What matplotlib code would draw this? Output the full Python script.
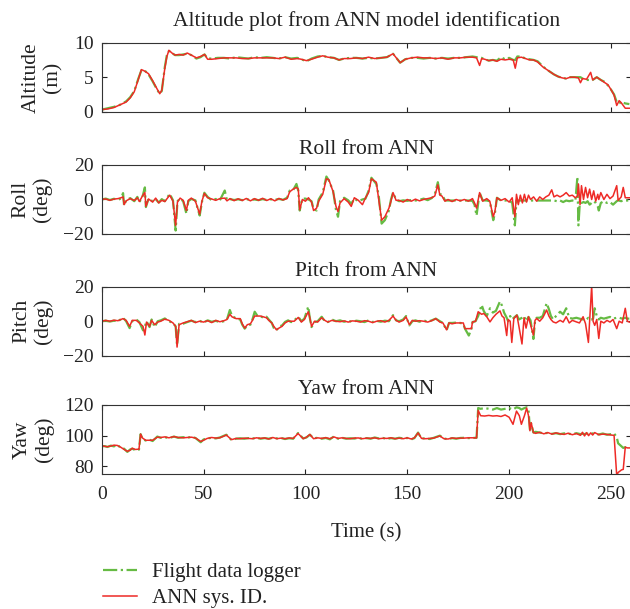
import matplotlib
matplotlib.use("Agg")
import matplotlib.pyplot as plt

plt.rcParams["font.family"] = ["Liberation Serif", "DejaVu Serif"]
plt.rcParams["font.size"] = 14

# ---- data: time (s), flight data logger, ANN sys. ID ----
t_alt = [0, 3, 6, 9, 12, 14, 16, 18, 19.5, 21, 23, 25, 27, 28.5, 29.5, 31, 32, 33, 34.5, 36,
         38, 40, 42, 44, 46.5, 48.5, 50.5, 52, 54, 57, 60, 63, 66, 69, 72, 75, 78, 81, 84, 87,
         90, 93, 96, 98, 100.5, 103, 106, 108.5, 111, 114, 116.5, 119, 122, 125, 128, 131, 134,
         137, 140, 143, 146.5, 149, 152, 155, 158, 161, 164, 167, 170, 173, 176, 179, 182, 184,
         185.5, 186.5, 188, 190, 192, 194, 196, 198, 200, 202, 203, 204, 206, 208, 210, 212, 214,
         216.5, 218, 220, 222, 224, 226, 228, 230, 232, 234, 235, 236, 238, 240, 241, 243, 245,
         247, 248.5, 250, 251.5, 252.8, 254, 255, 256, 257, 259]
alt_log = [0.3, 0.5, 0.7, 1.0, 1.5, 2.1, 3.0, 4.8, 6.0, 6.0, 5.4, 4.4, 3.3, 2.6, 3.0, 6.5, 8.2, 8.8, 8.5, 8.2,
           8.2, 8.3, 8.4, 8.2, 7.7, 7.9, 8.3, 7.7, 7.7, 7.8, 7.8, 7.7, 7.9, 7.8, 7.7, 7.9, 7.8, 7.9, 7.8, 7.7,
           7.9, 7.7, 7.8, 7.6, 7.3, 7.7, 8.0, 8.1, 7.9, 7.8, 7.5, 7.7, 7.8, 7.8, 7.7, 7.8, 7.7,
           7.8, 7.9, 8.4, 7.1, 7.6, 7.8, 7.8, 7.7, 7.8, 7.7, 7.8, 7.7, 7.8, 7.8, 7.9, 8.0, 7.9,
           7.8, 7.8, 7.6, 7.4, 7.5, 7.4, 7.9, 7.6, 7.8, 7.5, 7.5, 8.0, 8.0, 7.7, 7.6, 7.5, 7.3,
           6.6, 6.2, 5.8, 5.4, 5.1, 4.9, 4.8, 5.0, 5.0, 5.0, 5.0, 4.8, 4.6, 4.6, 4.6, 5.0, 4.6,
           4.3, 3.8, 3.2, 2.5, 1.4, 1.5, 1.1, 1.3, 1.2, 1.1]
alt_ann = [0.3, 0.4, 0.6, 1.0, 1.4, 2.0, 2.9, 4.7, 6.1, 5.9, 5.5, 4.5, 3.4, 2.6, 3.1, 6.3, 8.0, 8.9, 8.5, 8.2,
           8.3, 8.2, 8.5, 8.2, 7.8, 8.0, 8.3, 7.6, 7.6, 7.7, 7.8, 7.8, 7.8, 7.7, 7.7, 7.8, 7.8, 7.8, 7.8, 7.7,
           7.9, 7.6, 7.7, 7.6, 7.4, 7.6, 7.9, 8.1, 7.9, 7.8, 7.5, 7.7, 7.7, 7.8, 7.7, 7.9, 7.7,
           7.8, 7.9, 8.4, 7.1, 7.6, 7.8, 7.9, 7.8, 7.8, 7.7, 7.8, 7.6, 7.8, 7.8, 7.9, 7.9, 7.8,
           6.7, 7.7, 7.6, 7.4, 7.5, 7.3, 7.6, 7.5, 7.6, 7.5, 6.3, 7.8, 7.9, 7.7, 7.5, 7.5, 7.2,
           6.5, 6.2, 5.8, 5.4, 5.1, 4.9, 4.8, 5.0, 5.0, 4.9, 4.2, 4.8, 4.7, 5.7, 4.6, 5.0, 4.6,
           4.2, 3.9, 3.2, 2.4, 0.9, 1.6, 1.3, 0.9, 0.5, 0.5]

t_roll = [0, 2, 4, 6, 8, 9.5, 10.5, 11, 12, 14, 16, 17.5, 18.5, 20, 21.2, 21.7, 23, 25, 26.5, 28,
          29.5, 31, 33.4, 35, 36.3, 37.2, 38.5, 40, 41.6, 42.5, 44, 46, 48.1, 49.2, 50.4, 52, 54, 56,
          58, 60.4, 61.5, 63, 65, 67, 69, 71, 73, 75, 77, 79, 81, 83, 85, 87, 89, 91, 92.3, 94,
          95.6, 96.5, 97.2, 98.5, 100, 101.5, 103, 104, 105.5, 106.5, 108.5, 110.3, 111.5, 113.6,
          115, 116, 117, 119, 121, 122.5, 124, 126, 128, 129.5, 131, 132.4, 134.8, 136, 137.4,
          139, 141, 142, 143, 144.5, 146, 148, 150, 152, 154, 156, 158, 160, 162, 163.5, 165, 166,
          167, 168.5, 170, 172, 174, 176, 178, 180, 182, 183, 184, 185.5, 187, 189, 190.5, 192.2,
          193, 194, 196, 198, 200, 201.5, 202.8, 203.6, 204.5, 205.5, 206.5, 207.5, 208.5, 209.5,
          210.5, 212, 213.5, 215, 216.5, 218, 219.5, 220.9, 222, 223.5, 225, 226.5, 228, 229.5,
          231, 232.5, 233.5, 234, 234.8, 235.5, 236.5, 237.5, 238.5, 239.5, 240.5, 241.5, 242.5,
          243.5, 244, 245, 246.5, 248, 249.5, 251, 252.8, 253.5, 255, 256, 257, 259]
roll_log = [0, 0.5, -0.3, 0.4, -0.2, 0.6, 3.7, -3.5, -0.5, 0.8, -1.0, 1.5, -1.5, 1.5, 7.0, -4.4, 0.5, -1.0, 0.2, -1.8,
            0.2, -1.0, 3.3, -0.5, -18.0, -1.0, 0.5, -1.0, -8.3, -1.0, 0.3, -0.5, -9.3, -1.5, 3.9, 1.5, -0.5, 0.3,
            -0.5, 5.2, -0.5, 0.2, -0.3, 0.1, -0.4, 0.2, -0.3, 0.0, -0.4, 0.2, -0.3, 0.1, -0.2, 0.3, -0.2, 1.0, 5.2, 5.5,
            9.0, 5.0, -6.4, 0.5, 0.5, 0.0, -1.0, -5.5, -6.4, 0.0, 4.0, 13.3, 11.0, 5.0,
            -6.0, -10.0, -1.0, 1.0, -0.5, -2.5, 0.5, -1.0, 0.0, 0.5, 5.0, 12.6, 9.0, 2.0, -14.0,
            -12.0, -6.4, 0.0, 4.0, 0.0, -1.0, -0.5, -0.8, -0.3, -0.6, -0.2, 0.5, -0.4, 0.8, 3.0, 10.0, 3.0,
            3.0, -0.5, -0.6, -0.6, -0.6, -0.6, -0.6, -0.6, -0.8, -3.0, -9.3, 4.0, -0.5, -0.6, -1.0, -12.0,
            -8.0, 1.0, -0.6, -0.6, -0.6, -2.0, -15.0, -0.5, -0.6, -0.6, -0.6, -0.6, -0.6, -0.6,
            -0.6, -0.6, -0.6, -0.6, -0.6, -0.6, -0.6, -0.6, -0.6, -1.0, -0.6, -1.5, -0.6, -1.0,
            -0.6, -1.0, 13.0, -15.0, 0.0, -2.0, -1.5, -2.0, -1.0, -3.0, -2.0, -1.0, -2.0,
            -4.0, -6.4, -2.0, -1.0, -2.0, -1.5, -3.0, -1.0, -0.5, -1.0, -0.6, -0.6, -0.6]
roll_ann = [0, 0.3, -0.5, 0.2, 0.5, 1.0, 1.5, -3.0, -0.8, 0.5, -0.6, 1.0, -1.2, 2.0, 4.0, -4.0, 0.3, -1.5, 0.8, -2.0,
            -0.5, -1.2, 2.5, -1.0, -15.0, -1.5, 0.8, -0.5, -6.4, -0.5, 0.8, -1.0, -8.5, -1.0, 3.5, 1.0, 0.3, -0.5,
            0.5, 0.8, -0.8, 0.5, -0.7, 0.4, -0.6, 0.6, -0.8, 0.5, -0.5, 0.7, -0.6, 0.4, -0.8, 0.6, -0.3, 0.5, 4.5, 6.0,
            7.0, 6.0, -6.0, 0.0, -1.0, 1.0, -1.5, -6.4, -5.0, -1.0, 3.0, 12.0, 11.5, 4.5,
            -4.0, -7.0, -2.0, 0.5, -1.5, -4.0, 1.0, -0.5, -3.0, 1.0, 4.0, 12.0, 10.0, 0.0, -12.0,
            -10.0, -5.0, -1.0, 4.0, -0.5, -0.5, -1.5, 0.0, -1.0, 0.2, -0.8, 0.0, 0.5, 1.0, 2.0, 8.5, 2.5,
            2.0, -1.0, 0.0, -1.2, 0.0, -0.8, 0.0, -1.0, 0.5, -2.0, -5.0, 4.0, -1.0, 0.5, -1.0, -10.0,
            -7.0, 1.0, -0.5, 0.5, -1.5, 1.0, -10.0, 3.0, -3.0, 2.5, -2.0, 3.0, -1.5, 2.5,
            0.0, 1.5, -1.0, 1.5, 0.0, 1.5, 2.5, 5.6, 1.5, 2.5, 1.5, 2.5, 4.0, 2.0,
            2.5, 1.0, 2.0, 9.0, -3.0, 8.0, 0.0, 7.0, 1.0, 6.0, 0.0, 5.0, -1.0,
            3.0, 0.0, 4.0, 0.0, 3.0, 0.5, 2.0, 8.0, -0.5, 1.5, 7.0, 1.0, 1.0]

t_pitch = [0, 2, 4, 6, 8, 10.5, 12, 13.7, 15, 17, 18.5, 20.3, 21.2, 22, 23.5, 24.5, 26, 27.5, 29, 31,
           33, 35, 36.3, 37, 38, 40, 42, 44, 46, 48, 50, 52, 54, 56, 58, 60, 61.5, 62.9, 64, 66,
           68, 69, 70.2, 71.5, 73, 74, 75.1, 76.5, 78, 79.5, 80.9, 82, 83.5, 84.5, 85.8, 87, 88.5,
           90, 91.5, 93, 94.5, 96.5, 98, 99.5, 101.4, 102, 103, 104.5, 106, 108, 109.5, 111, 113,
           115, 117, 119, 121, 123, 125, 127, 129, 131, 133, 135, 137, 139, 141, 143, 144.5, 146,
           148, 149.4, 151, 152.5, 154, 156, 158, 160, 162, 164, 166, 167.5, 169.3, 170.5, 172, 174,
           176, 177.5, 178.3, 180.2, 181.5, 182, 183.5, 184.8, 186.5, 187.5, 189, 190.6, 192, 193.5,
           195.5, 196.5, 197.5, 198.8, 199.5, 200.5, 201.3, 202.3, 203.8, 204.8, 206.3, 207.3, 208.3,
           209.5, 210.5, 211.9, 212.7, 213.5, 215, 216.5, 218.4, 219.5, 220.5, 221.6, 223, 225,
           226.5, 228, 229.5, 231, 233, 234.5, 236.3, 237.5, 238.9, 239.5, 240.5, 241.2, 242, 243,
           244, 245, 246.5, 248, 249.5, 251, 252.8, 254, 255.5, 257, 258, 259]
pitch_log = [0, 0.3, -0.2, 0.3, 0.0, 2.0, 0.0, -4.0, 0.0, 1.0, -0.5, -5.3, -3.0, 0.0, -3.4, 1.0, -3.4, 0.0, 0.5, 1.6,
             0.0, -1.0, -3.0, -14.0, -1.5, -1.4, -0.5, 0.3, -0.5, 0.3, -0.8, 0.5, -0.3, 0.2, -0.5, 0.0, 1.0, 6.5, 3.0, 1.6,
             1.0, -2.0, -4.3, -2.5, -2.0, 1.0, 5.5, 3.0, 2.8, 2.0, 2.6, 1.0, -1.0, -4.0, -5.3, -3.0, -2.5,
             -0.4, 0.5, -0.5, 0.5, 2.6, 0.0, 1.5, 8.5, 3.0, -3.4, -0.5, 0.0, 2.6, 0.0, -0.5, 1.0,
             0.0, 0.5, -0.3, 0.3, -0.4, 0.3, 0.0, -0.5, 0.5, -0.5, 0.2, -0.3, 0.3, 0.0, 3.5, 0.5, 0.0,
             1.0, 3.0, -2.4, 0.0, 0.5, -0.3, 0.5, -0.3, 0.5, 1.5, 0.0, -1.0, -5.3, -1.0, -1.0, -0.8,
             -1.0, -1.5, -4.3, -8.3, -4.3, -0.5, 0.0, 3.0, 9.5, 6.0, 3.0, 7.5, 5.0, 6.0,
             11.5, 9.0, 5.0, 2.0, 0.0, 3.0, 1.0, 2.0, 3.5, 1.0, 2.0, 3.0, 0.0,
             2.5, 0.5, -10.3, 0.0, 2.0, 2.0, 3.0, 10.5, 7.0, 3.0, 1.0, 3.0, 5.5,
             4.0, 7.5, 2.0, 1.5, 2.0, 1.5, 1.0, 0.5, 2.0, 1.0, 1.0, 1.5, 7.5, 3.0,
             1.0, 2.0, 1.5, 2.0, 2.5, 1.5, 2.0, 2.0, 1.5, 2.0, 1.5, 1.5]
pitch_ann = [0, 0.5, 0.0, 0.6, 0.3, 1.5, 0.5, -3.0, 0.5, 0.5, -1.0, -3.0, -8.0, -0.5, -3.0, 0.5, -2.0, -0.5, 0.0, 1.2,
             0.5, -1.0, -3.0, -15.0, -2.0, -1.0, -0.3, 0.5, -0.8, 0.0, -0.5, 0.3, -0.8, 0.5, -0.3, 0.3, 1.0, 4.0, 2.5, 1.5,
             1.5, -1.5, -4.0, -2.0, -1.5, 0.5, 3.0, 3.0, 3.0, 2.5, 2.0, 0.5, -1.0, -3.0, -5.0, -4.0, -3.0,
             -1.0, 0.0, 0.0, 0.0, 2.2, -0.5, 1.0, 5.5, 3.0, -3.0, 0.0, -0.5, 2.0, 0.5, -0.5, 0.5,
             0.0, -0.3, 0.2, -0.5, 0.2, 0.0, -0.5, 0.3, 0.0, -0.8, 0.0, 0.3, -0.5, 0.5, 3.0, 0.5, -0.5,
             0.5, 2.5, -2.0, 0.5, 0.0, 0.3, 0.0, -0.5, 0.3, 1.5, -0.5, -1.0, -5.0, -1.0, -1.5, -1.0,
             -1.0, -1.0, -4.3, -4.3, -4.3, -0.5, 0.0, 5.5, 4.0, 4.5, 2.6, -0.4, 2.0, 4.0,
             6.0, 3.0, 2.0, -8.3, 1.0, 0.0, -12.3, 1.5, 3.5, -3.0, -13.2, 2.0, -4.0,
             2.6, -2.0, -8.0, 0.5, 1.6, 0.0, 2.0, 6.5, 3.0, 1.0, -0.4, -1.0, 0.5,
             -0.5, 2.6, -1.0, 0.5, -0.4, -1.0, 2.6, -1.5, -12.3, 0.0, 20.4, 0.0, -2.4, 1.0,
             -10.0, 0.0, -1.0, 0.5, -0.5, 1.0, -4.3, 0.0, -1.0, 7.5, 0.0, -0.5]

t_yaw = [0, 1.5, 2.8, 4.5, 6, 7.7, 9.3, 11, 12.6, 14, 15, 16.5, 18.3, 19.1, 20, 21.6, 23.2, 25, 27.3, 29,
         31, 33, 35.5, 37.5, 40, 42, 44, 46, 48.6, 50, 51.8, 54, 56, 58, 61.2, 63.7, 66, 68, 70, 72,
         74, 76, 78, 80, 82, 84, 86, 88, 90, 92, 94, 96.4, 98.9, 100.5, 102.2, 104, 106, 108, 110,
         112, 114, 116, 118, 120, 122, 124, 126, 128, 130, 132, 134, 136, 138, 140, 142, 144, 146,
         148, 150, 152, 153.5, 155.3, 157, 159, 161, 163, 166, 168, 170, 172, 174, 176, 178, 180,
         182, 184, 184.8, 186, 188, 190, 192, 194, 196, 198, 200, 201.9, 203.6, 205, 206, 207.5,
         208.6, 209.5, 210.2, 210.8, 211.9, 213, 215, 217, 219, 221, 223, 225, 227, 229, 231, 233,
         235, 236, 237, 238, 239, 240, 241, 242, 244, 246, 248, 250, 251.5, 252.8, 253.5, 255.2,
         256, 257, 258, 259]
yaw_log = [93.0, 93.2, 92.6, 93.5, 93.0, 94.0, 92.1, 91.5, 89.4, 91.0, 91.5, 90.5, 90.9, 101.0, 97.9, 96.8, 97.5, 96.5, 99.4, 98.6,
           99.0, 98.4, 99.4, 98.6, 99.0, 98.6, 99.2, 98.5, 95.7, 97.5, 98.2, 98.6, 98.2, 98.8, 100.6, 97.2, 98.0, 98.3, 98.0, 98.4,
           98.1, 98.6, 98.0, 98.4, 98.0, 98.6, 98.2, 98.5, 97.8, 98.3, 98.0, 101.7, 98.2, 98.8, 100.6, 98.3, 98.6, 98.0, 98.5,
           97.6, 99.5, 98.0, 98.6, 98.0, 98.3, 98.1, 98.6, 97.8, 98.4, 98.0, 98.8, 98.2, 98.5, 97.8, 98.4, 98.0, 98.6,
           98.2, 98.5, 97.6, 98.4, 102.0, 98.0, 98.4, 97.8, 98.6, 100.0, 98.2, 97.6, 98.4, 98.0, 98.5, 98.6, 98.4,
           98.5, 98.6, 118.0, 117.5, 118.0, 117.5, 117.0, 118.0, 117.0, 117.5, 118.0, 117.0, 118.5, 118.0, 117.0, 118.0,
           118.5, 117.0, 104.0, 108.0, 102.0, 102.5, 102.0, 101.5, 101.8, 101.2, 101.6, 101.0, 101.5, 101.2, 101.0, 101.6,
           101.0, 101.2, 101.0, 101.4, 101.0, 101.2, 101.5, 101.0, 100.8, 101.4, 100.6, 101.0, 101.5, 99.0, 95.0, 93.0,
           92.0, 92.5, 92.0, 92.0]
yaw_ann = [93.5, 93.0, 92.8, 93.2, 93.8, 93.6, 92.5, 91.0, 89.8, 90.5, 91.8, 91.0, 91.2, 101.0, 98.5, 97.0, 97.0, 97.0, 99.0, 98.8,
           99.2, 98.6, 99.4, 98.8, 98.6, 98.8, 99.0, 98.5, 96.2, 97.0, 98.2, 98.8, 98.4, 98.6, 100.4, 97.4, 98.2, 98.0, 98.3, 98.2,
           98.0, 98.6, 98.2, 98.5, 97.8, 98.8, 98.0, 98.4, 98.0, 98.5, 98.2, 101.4, 98.0, 99.0, 100.8, 98.0, 98.6, 98.2, 98.7,
           98.0, 99.2, 98.2, 98.6, 98.2, 98.0, 98.4, 98.5, 98.0, 98.4, 98.2, 98.6, 98.0, 98.3, 98.2, 98.6, 98.0, 98.4,
           98.0, 98.6, 97.8, 98.6, 101.8, 98.2, 98.0, 98.2, 98.4, 99.8, 98.0, 97.8, 98.5, 98.2, 98.4, 98.4, 98.6,
           98.6, 98.5, 116.4, 113.0, 112.8, 113.2, 112.8, 113.0, 112.5, 113.5, 112.0, 107.4, 116.0, 113.0, 107.4, 113.0,
           118.0, 113.0, 103.2, 108.5, 102.0, 101.5, 102.2, 101.2, 102.0, 101.0, 101.8, 101.2, 100.8, 101.6, 100.6, 101.4,
           100.2, 102.2, 99.8, 102.0, 100.0, 101.8, 100.4, 102.0, 100.6, 101.0, 100.8, 100.4, 100.2, 74.0, 76.0, 77.7,
           78.0, 92.5, 92.0, 92.0]

panels = [
    ("Altitude plot from ANN model identification", "Altitude\n(m)", t_alt, alt_log, alt_ann, (0, 10), [0, 5, 10]),
    ("Roll from ANN", "Roll\n(deg)", t_roll, roll_log, roll_ann, (-20, 20), [-20, 0, 20]),
    ("Pitch from ANN", "Pitch\n(deg)", t_pitch, pitch_log, pitch_ann, (-20, 20), [-20, 0, 20]),
    ("Yaw from ANN", "Yaw\n(deg)", t_yaw, yaw_log, yaw_ann, (75, 120), [80, 100, 120]),
]
x_ticks = [0, 50, 100, 150, 200, 250]

green = "#66bb44"
red = "#ee2a26"

fig = plt.figure(figsize=(6.3, 6.09), dpi=100)
bottoms = [0.8166, 0.6158, 0.4159, 0.2217]
label_x = [-0.074, -0.094, -0.092, -0.09]
title_pad = [12, 8, 8, 8]

for i, (title, ylab, t, log, ann, ylim, yt) in enumerate(panels):
    ax = fig.add_axes([0.1614, bottoms[i], 0.8408, 0.1133])
    l1, = ax.plot(t, log, color=green, lw=1.6, ls="-.")
    l2, = ax.plot(t, ann, color=red, lw=1.1)
    ax.set_xlim(0, 260)
    ax.set_ylim(*ylim)
    ax.set_yticks(yt)
    ax.set_xticks(x_ticks)
    ax.set_title(title, fontsize=15.5, pad=title_pad[i], color="#222222")
    ax.set_ylabel(ylab, fontsize=15.5, linespacing=1.15, color="#222222")
    ax.yaxis.set_label_coords(label_x[i], 0.5)
    ax.tick_params(direction="in", top=True, right=True, length=3.5, width=0.8,
                   labelsize=14, colors="#222222")
    ax.tick_params(axis="y", pad=6)
    ax.tick_params(axis="x", pad=9)
    for s in ax.spines.values():
        s.set_color("#333333")
        s.set_linewidth(0.8)
    if i < 3:
        ax.set_xticklabels([])
    else:
        ax.set_xlabel("Time (s)", fontsize=15, color="#222222", labelpad=14)

fig.legend([l1, l2], ["Flight data logger", "ANN sys. ID."], loc="upper left",
           bbox_to_anchor=(0.1635, 0.076), frameon=False, fontsize=15,
           handlelength=1.65, handletextpad=0.7, labelspacing=0.3,
           borderpad=0, borderaxespad=0, labelcolor="#222222")

fig.savefig("out.png", dpi=100)
